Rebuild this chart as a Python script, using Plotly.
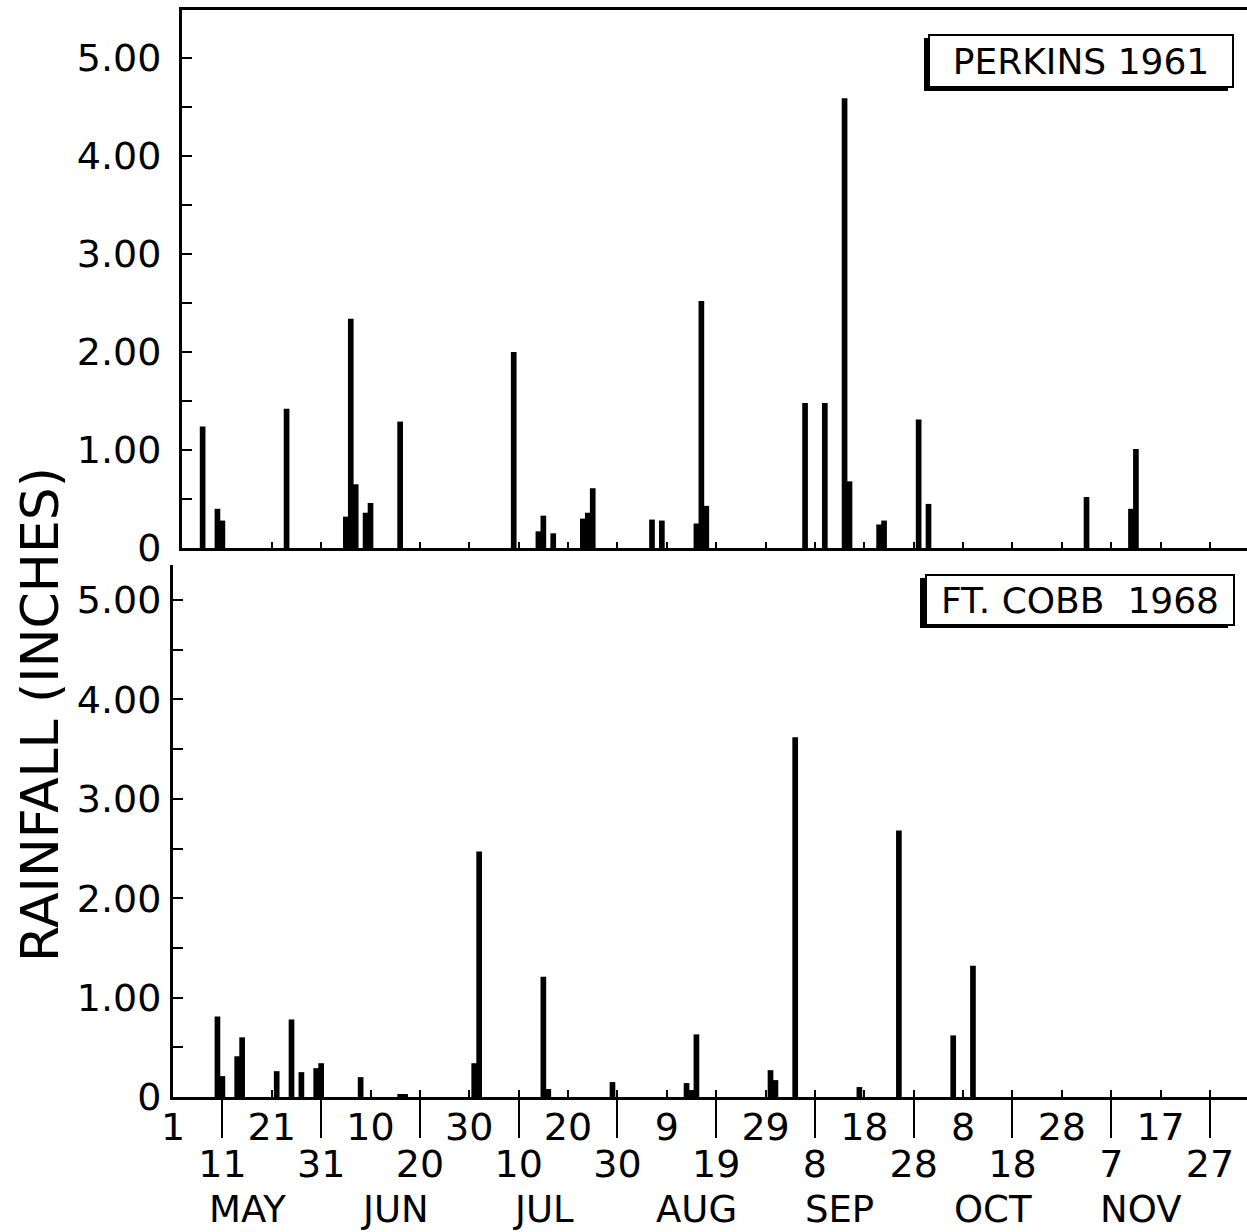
import plotly.graph_objects as go

# ---------------- data (days counted from 1 May) ----------------
perkins_days = [6, 9, 10, 23, 35, 36, 37, 39, 40, 46, 69, 74, 75, 77, 83, 84, 85,
                97, 99, 106, 107, 108, 128, 132, 136, 137, 143, 144, 151, 153,
                185, 194, 195]
perkins_rain = [1.24, 0.40, 0.28, 1.42, 0.32, 2.34, 0.65, 0.36, 0.46, 1.29, 2.00,
                0.17, 0.33, 0.15, 0.30, 0.36, 0.61, 0.29, 0.28, 0.25, 2.52, 0.43,
                1.48, 1.48, 4.59, 0.68, 0.24, 0.28, 1.31, 0.45, 0.52, 0.40, 1.01]

cobb_days = [9, 10, 13, 14, 21, 24, 26, 29, 30, 38, 46, 47, 61, 62, 75, 76, 89,
             104, 105, 106, 121, 122, 126, 139, 147, 158, 162]
cobb_rain = [0.81, 0.21, 0.41, 0.60, 0.26, 0.78, 0.25, 0.29, 0.34, 0.20, 0.03,
             0.03, 0.34, 2.47, 1.21, 0.08, 0.15, 0.14, 0.07, 0.63, 0.27, 0.17,
             3.62, 0.10, 2.68, 0.62, 1.32]

upper_tick_days = [0, 20, 40, 60, 80, 100, 120, 140, 160, 180, 200]
upper_tick_labels = ["1", "21", "10", "30", "20", "9", "29", "18", "8", "28", "17"]
lower_tick_days = [10, 30, 50, 70, 90, 110, 130, 150, 170, 190, 210]
lower_tick_labels = ["11", "31", "20", "10", "30", "19", "8", "28", "18", "7", "27"]
month_days = [15, 45, 75, 106, 135, 166, 196]
month_labels = ["MAY", "JUN", "JUL", "AUG", "SEP", "OCT", "NOV"]

y_tick_vals = [0, 0.5, 1, 1.5, 2, 2.5, 3, 3.5, 4, 4.5, 5]
y_tick_text = ["0", "", "1.00", "", "2.00", "", "3.00", "", "4.00", "", "5.00"]

# ---------------- layout geometry (screen pixels) ----------------
W, H = 1247, 1232


def fx(X):
    return X / W


def fy(Y):
    return 1 - Y / H


X0 = 173.0      # pixel of day 0
PXD = 4.938     # pixels per day
xr_end = (W - X0) / PXD
Y0T, PXT = 548.0, 98.0
Y0B, PXB = 1097.0, 99.4

all_tick_days = sorted(upper_tick_days + lower_tick_days)
all_tick_text = []
for d in all_tick_days:
    all_tick_text.append(upper_tick_labels[upper_tick_days.index(d)] if d in upper_tick_days else "")

FONT = "DejaVu Sans"
BLACK = "black"

fig = go.Figure()
fig.add_trace(go.Bar(x=perkins_days, y=perkins_rain, width=1.15, xaxis="x2", yaxis="y",
                     marker=dict(color=BLACK, line=dict(width=0)), showlegend=False))
fig.add_trace(go.Bar(x=cobb_days, y=cobb_rain, width=1.15, xaxis="x", yaxis="y2",
                     marker=dict(color=BLACK, line=dict(width=0)), showlegend=False))
# empty helper trace so that the overlay axis (long ticks, lower labels) is drawn
fig.add_trace(go.Scatter(x=[], y=[], xaxis="x3", yaxis="y2", mode="markers",
                         showlegend=False, hoverinfo="skip"))

common_axis = dict(showgrid=False, zeroline=False, showline=True, linecolor=BLACK,
                   linewidth=3, tickcolor=BLACK, tickwidth=2, automargin=False,
                   fixedrange=True)

fig.update_layout(
    width=W, height=H, autosize=False,
    margin=dict(l=0, r=0, t=0, b=0, pad=0),
    paper_bgcolor="white", plot_bgcolor="white",
    font=dict(family=FONT, color=BLACK, size=38),
    showlegend=False,
    # bottom panel x axis (upper row of day labels)
    xaxis=dict(domain=[fx(X0), 1], range=[0, xr_end], anchor="y2",
               tickmode="array", tickvals=all_tick_days, ticktext=all_tick_text,
               ticks="inside", ticklen=7, tickfont=dict(size=38),
               ticklabelstandoff=-6, **common_axis),
    # overlay axis: long ticks and lower row of day labels
    xaxis3=dict(overlaying="x", anchor="y2", side="bottom", range=[0, xr_end],
                tickmode="array", tickvals=lower_tick_days, ticktext=lower_tick_labels,
                ticks="outside", ticklen=40, tickwidth=2, tickcolor=BLACK,
                showline=False, showgrid=False, zeroline=False, automargin=False,
                tickfont=dict(size=38), ticklabelstandoff=-7, fixedrange=True),
    # top panel x axis
    xaxis2=dict(domain=[fx(182), 1], range=[(182 - X0) / PXD, xr_end], anchor="y",
                tickmode="array", tickvals=all_tick_days, showticklabels=False,
                ticks="inside", ticklen=6, mirror=True, **common_axis),
    # top panel y axis
    yaxis=dict(domain=[fy(Y0T), fy(10)], range=[0, (Y0T - 10) / PXT], anchor="x2",
               tickmode="array", tickvals=y_tick_vals, ticktext=y_tick_text,
               ticks="inside", ticklen=10, tickfont=dict(size=38),
               ticklabelstandoff=10, **common_axis),
    # bottom panel y axis
    yaxis2=dict(domain=[fy(Y0B), fy(565)], range=[0, (Y0B - 565) / PXB], anchor="x",
                tickmode="array", tickvals=y_tick_vals, ticktext=y_tick_text,
                ticks="inside", ticklen=10, tickfont=dict(size=38),
                ticklabelstandoff=1, **common_axis),
)

annotations = []
for d, m in zip(month_days, month_labels):
    annotations.append(dict(x=d, xref="x", y=0, yref="paper", text=m,
                            showarrow=False, xanchor="center", yanchor="bottom",
                            borderpad=0, font=dict(size=37)))
annotations.append(dict(x=fx(40), y=fy(715), xref="paper", yref="paper",
                        text="RAINFALL (INCHES)", textangle=-90, showarrow=False,
                        xanchor="center", yanchor="middle", font=dict(size=52)))
# panel labels (boxed)
annotations.append(dict(x=fx(1081), y=fy(61), xref="paper", yref="paper",
                        text="PERKINS 1961", showarrow=False, xanchor="center",
                        yanchor="middle", font=dict(size=36), bgcolor="white",
                        bordercolor=BLACK, borderwidth=2, borderpad=0,
                        width=302, height=50))
annotations.append(dict(x=fx(1080), y=fy(600), xref="paper", yref="paper",
                        text="FT. COBB  1968", showarrow=False, xanchor="center",
                        yanchor="middle", font=dict(size=36), bgcolor="white",
                        bordercolor=BLACK, borderwidth=2, borderpad=0,
                        width=306, height=48))
fig.update_layout(annotations=annotations)

shapes = [
    dict(type="rect", xref="paper", yref="paper", x0=fx(924), x1=fx(1228),
         y0=fy(91), y1=fy(38), fillcolor=BLACK, line=dict(width=0), layer="above"),
    dict(type="rect", xref="paper", yref="paper", x0=fx(920), x1=fx(1228),
         y0=fy(628), y1=fy(578), fillcolor=BLACK, line=dict(width=0), layer="above"),
]
fig.update_layout(shapes=shapes)

fig.write_html("out.html", config={"displayModeBar": False},
               post_script="document.body.style.margin='0px';")
